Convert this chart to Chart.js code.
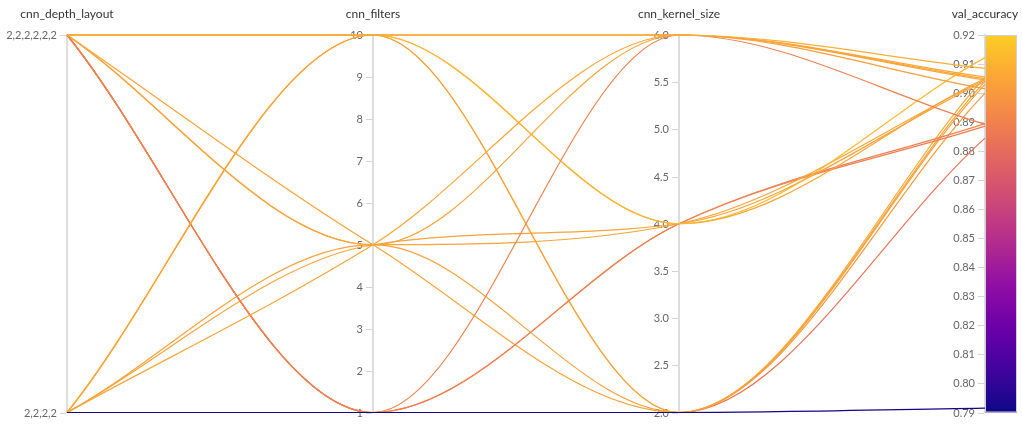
<!DOCTYPE html>
<html><head><meta charset="utf-8">
<script src="https://cdn.jsdelivr.net/npm/chart.js@4.4.1/dist/chart.umd.min.js"></script>
<style>html,body{margin:0;padding:0;background:#fff}#wrap{width:1022px;height:424px;position:relative}</style>
</head><body><div id="wrap"><canvas id="c"></canvas></div>
<script>
// ---- data ----
const axisNames = ['cnn_depth_layout', 'cnn_filters', 'cnn_kernel_size', 'val_accuracy'];
const depthLabels = ['2,2,2,2', '2,2,2,2,2,2'];          // index 0 = bottom
const filterRange = [1, 10];
const kernelRange = [2, 6];
const accRange = [0.79, 0.92];
// one entry per run (first run drawn on top)
const runDepth   = [0,      1,      1,      0,      1,      0,      1,      1,      0,      1,      0,      1,      1,      1,      0,      1,      0,      1     ];
const runFilters = [1,      10,     10,     10,     5,      5,      1,      10,     10,     5,      5,      1,      1,      10,     10,     5,      5,      1     ];
const runKernel  = [2,      6,      6,      6,      6,      6,      6,      4,      4,      4,      4,      4,      4,      2,      2,      2,      2,      2     ];
const runAcc     = [0.7915, 0.9085, 0.9015, 0.9055, 0.9045, 0.9050, 0.8893, 0.9122, 0.9050, 0.9045, 0.9040, 0.8895, 0.8886, 0.9055, 0.9000, 0.9040, 0.9030, 0.8845];
const plasmaStops = ['#0d0887','#41049d','#6a00a8','#8f0da4','#b12a90','#cc4778','#e16462','#f2844b','#fca636','#fcce25'];

function hexRgb(h){ return [parseInt(h.slice(1,3),16), parseInt(h.slice(3,5),16), parseInt(h.slice(5,7),16)]; }
function plasma(t, a){
  t = Math.max(0, Math.min(1, t));
  const n = plasmaStops.length - 1, f = t * n, i = Math.min(Math.floor(f), n - 1), r = f - i;
  const c0 = hexRgb(plasmaStops[i]), c1 = hexRgb(plasmaStops[i + 1]);
  const c = c0.map((v, k) => Math.round(v + (c1[k] - v) * r));
  return `rgba(${c[0]},${c[1]},${c[2]},${a})`;
}
const norm = (v, r) => (v - r[0]) / (r[1] - r[0]);

const datasets = runAcc.map((acc, i) => ({
  data: [
    {x: 0, y: norm(runDepth[i], [0, 1])},
    {x: 1, y: norm(runFilters[i], filterRange)},
    {x: 2, y: norm(runKernel[i], kernelRange)},
    {x: 3, y: norm(acc, accRange)}
  ],
  borderColor: plasma(norm(acc, accRange), 1),
  borderWidth: 1.2,
  pointRadius: 0,
  fill: false,
  clip: false,
  cubicInterpolationMode: 'monotone',
  xAxisID: 'x',
  yAxisID: 'yn'
}));

const axisIds = ['yDepth', 'yFilt', 'yKern', 'yAcc'];
function axisCfg(pos, range, step, fmt){
  return {
    type: 'linear', axis: 'y', position: {x: pos}, min: range[0], max: range[1],
    grid: {display: false},
    border: {display: true, color: '#dddddd', width: 2},
    ticks: {display: false, stepSize: step, autoSkip: false, callback: fmt}
  };
}

const deco = {
  id: 'deco',
  beforeDatasetsDraw(chart){
    const ctx = chart.ctx, xs = chart.scales.x;
    ctx.save();
    ctx.font = '11px Lato'; ctx.fillStyle = '#666'; ctx.textAlign = 'right'; ctx.textBaseline = 'middle';
    ctx.strokeStyle = '#d4d4d4'; ctx.lineWidth = 1;
    axisIds.forEach((id, i) => {
      const s = chart.scales[id];
      const ax = xs.getPixelForValue(i);
      s.ticks.forEach(t => {
        const y = Math.round(s.getPixelForValue(t.value)) + 0.5;
        ctx.beginPath(); ctx.moveTo(ax - 7, y); ctx.lineTo(ax - 1, y); ctx.stroke();
        const lbl = s.options.ticks.callback(t.value);
        ctx.fillText(lbl, ax - 10, y);
      });
    });
    ctx.restore();
  },
  afterDatasetsDraw(chart){
    const ctx = chart.ctx, xs = chart.scales.x, ya = chart.scales.yAcc;
    const bx = xs.getPixelForValue(3);
    const g = ctx.createLinearGradient(0, ya.bottom, 0, ya.top);
    plasmaStops.forEach((c, i) => g.addColorStop(i / (plasmaStops.length - 1), c));
    ctx.save();
    ctx.fillStyle = g;
    ctx.fillRect(bx, ya.top, 32, ya.bottom - ya.top);
    ctx.strokeStyle = '#d0d0d0'; ctx.lineWidth = 1;
    ctx.strokeRect(bx + 0.5, ya.top + 0.5, 31, ya.bottom - ya.top - 1);
    ctx.font = '12px Lato'; ctx.fillStyle = '#333'; ctx.textAlign = 'center'; ctx.textBaseline = 'middle';
    axisNames.forEach((n, i) => ctx.fillText(n, xs.getPixelForValue(i), 14));
    ctx.restore();
  }
};

new Chart(document.getElementById('c'), {
  type: 'line',
  data: {datasets},
  options: {
    responsive: true, maintainAspectRatio: false, animation: false, events: [],
    layout: {padding: {left: 67, right: 37, top: 35, bottom: 11.5}},
    plugins: {legend: {display: false}, tooltip: {enabled: false}},
    scales: {
      x: {type: 'linear', min: 0, max: 3, display: false},
      yn: {type: 'linear', axis: 'y', min: 0, max: 1, display: false},
      yDepth: axisCfg(0, [0, 1], 1, v => depthLabels[Math.round(v)]),
      yFilt: axisCfg(1, filterRange, 1, v => String(Math.round(v))),
      yKern: axisCfg(2, kernelRange, 0.5, v => Number(v).toFixed(1)),
      yAcc: axisCfg(3, accRange, 0.01, v => Number(v).toFixed(2))
    }
  },
  plugins: [deco]
});
</script></body></html>
